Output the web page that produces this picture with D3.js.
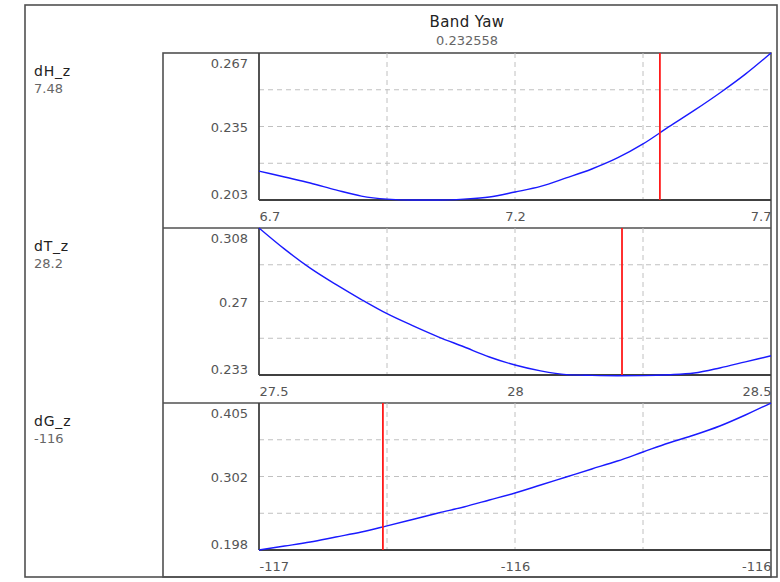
<!DOCTYPE html>
<html>
<head>
<meta charset="utf-8">
<script src="https://cdn.jsdelivr.net/npm/d3@7"></script>
<style>
  html, body { margin: 0; padding: 0; background: #ffffff; }
  svg { display: block; font-family: "DejaVu Sans", Verdana, sans-serif; }
</style>
</head>
<body>
<svg id="chart" width="780" height="582"></svg>
<script>
// ---------- data ----------
const chartTitle = "Band Yaw";
const chartValue = "0.232558";

const panelNames = ["dH_z", "dT_z", "dG_z"];
const panelValueLabels = ["7.48", "28.2", "-116"];
const markerX = [7.483, 28.209, -116.758];

const xDomains = [[6.7, 7.7], [27.5, 28.5], [-117, -116]];
const xTickValues = [[6.7, 7.2, 7.7], [27.5, 28, 28.5], [-117, -116.5, -116]];
const xTickLabels = [["6.7", "7.2", "7.7"], ["27.5", "28", "28.5"], ["-117", "-116", "-116"]];

const yDomains = [[0.203, 0.267], [0.233, 0.308], [0.198, 0.405]];
const yTickValues = [[0.203, 0.235, 0.267], [0.233, 0.2705, 0.308], [0.198, 0.3015, 0.405]];
const yTickLabels = [["0.203", "0.235", "0.267"], ["0.233", "0.27", "0.308"], ["0.198", "0.302", "0.405"]];

const dH_x = [6.70, 6.75, 6.80, 6.85, 6.90, 6.95, 7.00, 7.05, 7.10, 7.15, 7.20,
              7.25, 7.30, 7.35, 7.40, 7.45, 7.50, 7.55, 7.60, 7.65, 7.70];
const dH_y = [0.2156, 0.2130, 0.2104, 0.2074, 0.2047, 0.2034, 0.2030, 0.2030, 0.2034, 0.2043, 0.2065,
              0.2089, 0.2126, 0.2165, 0.2213, 0.2274, 0.2348, 0.2420, 0.2496, 0.2578, 0.2670];

const dT_x = [27.50, 27.55, 27.60, 27.65, 27.70, 27.75, 27.80, 27.85, 27.90, 27.95, 28.00,
              28.05, 28.10, 28.15, 28.20, 28.25, 28.30, 28.35, 28.40, 28.45, 28.50];
const dT_y = [0.3080, 0.2972, 0.2875, 0.2792, 0.2715, 0.2643, 0.2582, 0.2525, 0.2474, 0.2422, 0.2381,
              0.2351, 0.2332, 0.2328, 0.2326, 0.2327, 0.2331, 0.2340, 0.2366, 0.2397, 0.2428];

const dG_x = [-117.00, -116.95, -116.90, -116.85, -116.80, -116.75, -116.70, -116.65, -116.60, -116.55, -116.50,
              -116.45, -116.40, -116.35, -116.30, -116.25, -116.20, -116.15, -116.10, -116.05, -116.00];
const dG_y = [0.1980, 0.2036, 0.2093, 0.2163, 0.2233, 0.2320, 0.2410, 0.2501, 0.2586, 0.2684, 0.2783,
              0.2895, 0.3008, 0.3121, 0.3233, 0.3360, 0.3487, 0.3599, 0.3726, 0.3881, 0.4050];

const seriesX = [dH_x, dT_x, dG_x];
const seriesY = [dH_y, dT_y, dG_y];

// ---------- layout ----------
const svg = d3.select("#chart");
const outer = { x0: 25, y0: 5, x1: 777, y1: 577 };
const box = { x0: 163, x1: 771 };
const plotX0 = 259, plotX1 = 771;
const rowTops = [53, 228, 403];
const plotH = 147;
const frameColor = "#505050";

// outer frame
svg.append("rect")
  .attr("x", outer.x0).attr("y", outer.y0)
  .attr("width", outer.x1 - outer.x0).attr("height", outer.y1 - outer.y0)
  .attr("fill", "#fff").attr("stroke", frameColor).attr("stroke-width", 1.6);

// title
svg.append("text").attr("x", 467).attr("y", 27).attr("text-anchor", "middle")
  .attr("font-size", 15).attr("fill", "#222").attr("letter-spacing", 0.4).text(chartTitle);
svg.append("text").attr("x", 467).attr("y", 45).attr("text-anchor", "middle")
  .attr("font-size", 13).attr("fill", "#666").text(chartValue);

// panel box
svg.append("rect")
  .attr("x", box.x0).attr("y", rowTops[0])
  .attr("width", box.x1 - box.x0).attr("height", outer.y1 - rowTops[0])
  .attr("fill", "none").attr("stroke", frameColor).attr("stroke-width", 1.6);

const line = d3.line().curve(d3.curveMonotoneX);

panelNames.forEach((name, i) => {
  const top = rowTops[i];
  const bottom = top + plotH;
  const x = d3.scaleLinear().domain(xDomains[i]).range([plotX0, plotX1]);
  const y = d3.scaleLinear().domain(yDomains[i]).range([bottom, top]);
  const g = svg.append("g");

  // separator above panel (except first)
  if (i > 0) {
    g.append("line").attr("x1", box.x0).attr("x2", box.x1).attr("y1", top).attr("y2", top)
      .attr("stroke", frameColor).attr("stroke-width", 1.6);
  }

  // grid
  const xd = xDomains[i], yd = yDomains[i];
  const xGrid = [1, 2, 3].map(k => xd[0] + (xd[1] - xd[0]) * k / 4);
  const yGrid = [1, 2, 3].map(k => yd[0] + (yd[1] - yd[0]) * k / 4);
  g.selectAll(".vg").data(xGrid).enter().append("line")
    .attr("x1", d => x(d)).attr("x2", d => x(d)).attr("y1", top).attr("y2", bottom)
    .attr("stroke", "#c0c0c0").attr("stroke-width", 1).attr("stroke-dasharray", "5,4");
  g.selectAll(".hg").data(yGrid).enter().append("line")
    .attr("x1", plotX0).attr("x2", plotX1).attr("y1", d => y(d)).attr("y2", d => y(d))
    .attr("stroke", "#c0c0c0").attr("stroke-width", 1).attr("stroke-dasharray", "5,4");

  // plot axes lines
  g.append("line").attr("x1", plotX0).attr("x2", plotX0).attr("y1", top).attr("y2", bottom)
    .attr("stroke", "#404040").attr("stroke-width", 1.8);
  g.append("line").attr("x1", plotX0).attr("x2", plotX1).attr("y1", bottom).attr("y2", bottom)
    .attr("stroke", "#404040").attr("stroke-width", 1.8);

  // curve
  const pts = seriesX[i].map((xv, j) => [x(xv), y(seriesY[i][j])]);
  g.append("path").attr("d", line(pts)).attr("fill", "none")
    .attr("stroke", "#1a1aff").attr("stroke-width", 1.4);

  // marker
  g.append("line").attr("x1", x(markerX[i])).attr("x2", x(markerX[i]))
    .attr("y1", top).attr("y2", bottom).attr("stroke", "#ff1a1a").attr("stroke-width", 1.8);

  // y axis
  const yAxis = d3.axisLeft(y).tickValues(yTickValues[i]).tickSize(0).tickPadding(11)
    .tickFormat((d, k) => yTickLabels[i][k]);
  const ya = g.append("g").attr("transform", `translate(${plotX0},0)`).call(yAxis);
  ya.select(".domain").remove();
  ya.selectAll("text").attr("font-size", 13).attr("fill", "#555")
    .attr("font-family", "DejaVu Sans, Verdana, sans-serif")
    .attr("y", (d, k) => k === 0 ? -6 : (k === 2 ? 10 : 1));

  // x axis
  const xAxis = d3.axisBottom(x).tickValues(xTickValues[i]).tickSize(0).tickPadding(12)
    .tickFormat((d, k) => xTickLabels[i][k]);
  const xa = g.append("g").attr("transform", `translate(0,${bottom})`).call(xAxis);
  xa.select(".domain").remove();
  xa.selectAll("text").attr("font-size", 13).attr("fill", "#555")
    .attr("font-family", "DejaVu Sans, Verdana, sans-serif")
    .attr("text-anchor", (d, k) => k === 0 ? "start" : (k === 2 ? "end" : "middle"));

  // panel labels
  g.append("text").attr("x", 34).attr("y", top + 23).attr("font-size", 14)
    .attr("fill", "#222").attr("letter-spacing", 0.8).text(name);
  g.append("text").attr("x", 34).attr("y", top + 40).attr("font-size", 13)
    .attr("fill", "#666").text(panelValueLabels[i]);
});
</script>
</body>
</html>
